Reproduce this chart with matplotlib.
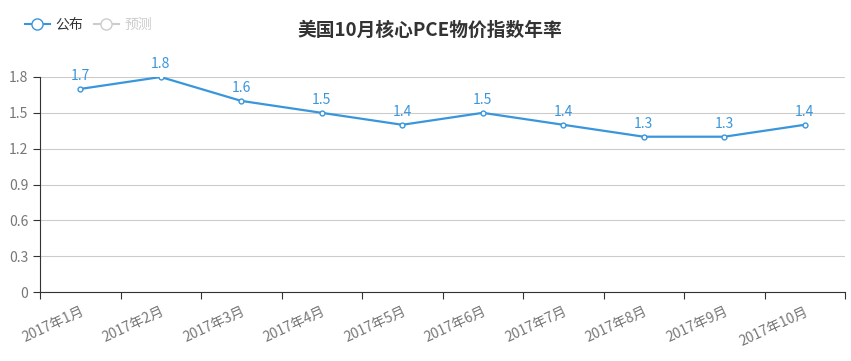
import matplotlib.pyplot as plt
from matplotlib.lines import Line2D

plt.rcParams['font.family'] = ['Noto Sans CJK SC', 'DejaVu Sans']

months = ['2017年1月', '2017年2月', '2017年3月', '2017年4月', '2017年5月',
          '2017年6月', '2017年7月', '2017年8月', '2017年9月', '2017年10月']
values = [1.7, 1.8, 1.6, 1.5, 1.4, 1.5, 1.4, 1.3, 1.3, 1.4]
yticks = [0, 0.3, 0.6, 0.9, 1.2, 1.5, 1.8]

blue = '#3a96dc'

fig = plt.figure(figsize=(8.51, 3.61), dpi=100)
ax = fig.add_axes([40/851, 69/361, 805/851, 215/361])

x = [i + 0.5 for i in range(len(values))]
ax.plot(x, values, color=blue, lw=1.6, marker='o', ms=3.5,
        mfc='white', mec=blue, mew=1, zorder=3)
for xi, v in zip(x, values):
    ax.annotate(f'{v:g}', (xi, v), xytext=(0, 4), textcoords='offset points',
                ha='center', va='bottom', color=blue, fontsize=10)

ax.set_xlim(0, len(values))
ax.set_ylim(0, 1.8)
ax.set_yticks(yticks)
ax.set_yticklabels([f'{t:g}' for t in yticks])
ax.set_xticks(range(len(values) + 1))
ax.set_xticklabels([])
ax.set_xticks(x, minor=True)
ax.set_xticklabels(months, minor=True, rotation=25, ha='right',
                   rotation_mode='anchor', color='#777777', fontsize=10)
ax.tick_params(axis='x', which='minor', length=0, pad=9)
ax.tick_params(axis='x', which='major', length=5, color='#333333')
ax.tick_params(axis='y', length=5, color='#333333', labelcolor='#777777',
               labelsize=10)
ax.grid(axis='y', color='#cccccc', lw=0.8)
for s in ['top', 'right']:
    ax.spines[s].set_visible(False)
for s in ['left', 'bottom']:
    ax.spines[s].set_color('#333333')

fig.text(430/851, 1 - 30/361, '美国10月核心PCE物价指数年率', ha='center',
         va='center', fontsize=13.5, fontweight='bold', color='#333333')

handles = [Line2D([], [], color=blue, marker='o', mfc='white', ms=8, lw=1.5),
           Line2D([], [], color='#cccccc', marker='o', mfc='white', ms=8, lw=1.5)]
leg = fig.legend(handles, ['公布', '预测'], loc='center left',
                 bbox_to_anchor=(12/851, 1 - 25/361), ncol=2, frameon=False,
                 fontsize=10, handlelength=1.8, columnspacing=0.8,
                 handletextpad=0.4)
leg.get_texts()[0].set_color('#333333')
leg.get_texts()[1].set_color('#cccccc')

fig.savefig('out.png', dpi=100)
